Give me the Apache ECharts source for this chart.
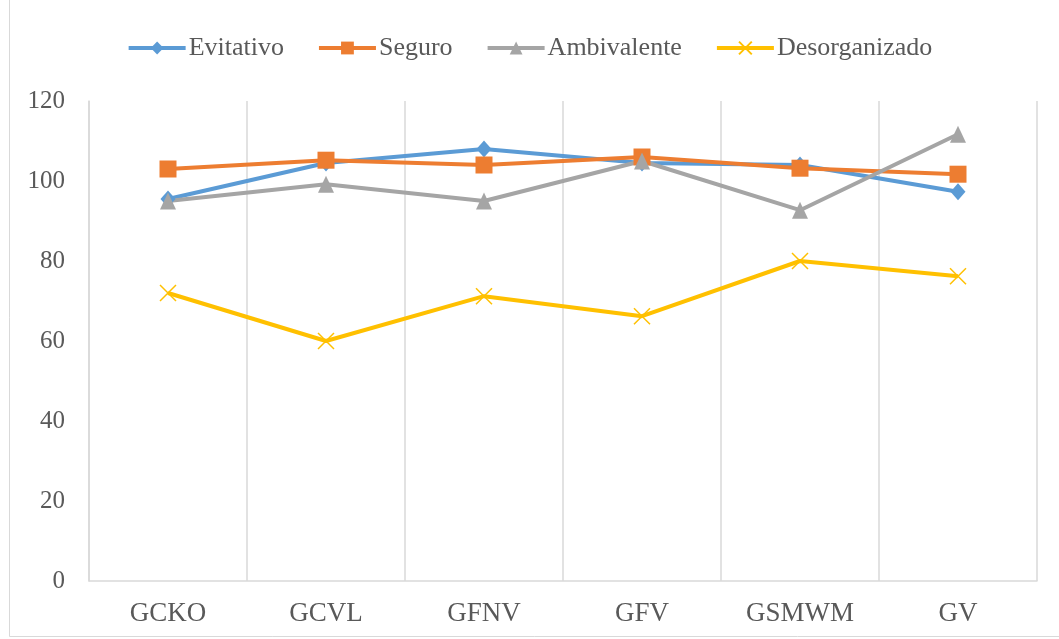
<!DOCTYPE html>
<html><head><meta charset="utf-8">
<script src="https://cdn.jsdelivr.net/npm/echarts@6/dist/echarts.min.js"></script>
<style>html,body{margin:0;padding:0;background:#fff}#c{width:1059px;height:639px}</style>
</head><body><div id="c"></div>
<script>
const categories = ['GCKO','GCVL','GFNV','GFV','GSMWM','GV'];
const evitativo = [95.5, 104.5, 108, 104.5, 104, 97.3];
const seguro = [103, 105.2, 104, 106, 103.2, 101.7];
const ambivalente = [95, 99.2, 95, 105, 92.7, 111.7];
const desorganizado = [72, 60, 71.2, 66.2, 80, 76.2];
const seriesNames = ['Evitativo','Seguro','Ambivalente','Desorganizado'];
const yTicks = {min: 0, max: 120, interval: 20};

const font = '"Liberation Serif", "DejaVu Serif", serif';
const chart = echarts.init(document.getElementById('c'));
const xPath = 'path://M0,0L10,10M10,0L0,10';
function mk(name, data, color, symbol, size, extra) {
  return Object.assign({
    name, type: 'line', data, symbol, symbolSize: size,
    lineStyle: {width: 4, color}, itemStyle: {color},
    emphasis: {disabled: true}
  }, extra || {});
}
chart.setOption({
  animation: false,
  textStyle: {fontFamily: font},
  graphic: [{type: 'rect', shape: {x: 9.5, y: -2, width: 1080, height: 638.5}, style: {fill: 'none', stroke: '#d9d9d9', lineWidth: 1}, silent: true}],
  legend: {
    top: 30, left: 'center', itemGap: 33, itemWidth: 57, itemHeight: 16,
    lineStyle: {width: 4},
    textStyle: {fontFamily: font, fontSize: 26, color: '#595959', padding: [0, 0, 0, -2]},
    data: seriesNames
  },
  grid: {left: 89, right: 22, top: 101, bottom: 58},
  xAxis: {
    type: 'category', data: categories, boundaryGap: true,
    axisLine: {show: true, lineStyle: {color: '#d9d9d9', width: 1.5}},
    axisTick: {show: false},
    axisLabel: {fontFamily: font, fontSize: 27, color: '#595959', margin: 19},
    splitLine: {show: true, lineStyle: {color: '#d9d9d9', width: 1.5}}
  },
  yAxis: {
    type: 'value', min: yTicks.min, max: yTicks.max, interval: yTicks.interval,
    axisLine: {show: true, lineStyle: {color: '#d9d9d9', width: 1.5}},
    axisTick: {show: false},
    splitLine: {show: false},
    axisLabel: {fontFamily: font, fontSize: 25, color: '#595959', margin: 24}
  },
  series: [
    mk(seriesNames[0], evitativo, '#5B9BD5', 'diamond', [15, 17]),
    mk(seriesNames[1], seguro, '#ED7D31', 'rect', 17),
    mk(seriesNames[2], ambivalente, '#A5A5A5', 'triangle', [16, 17]),
    mk(seriesNames[3], desorganizado, '#FFC000', xPath, 16, {itemStyle: {color: '#FFC000', borderColor: '#FFC000', borderWidth: 1.5}})
  ]
});
</script></body></html>
